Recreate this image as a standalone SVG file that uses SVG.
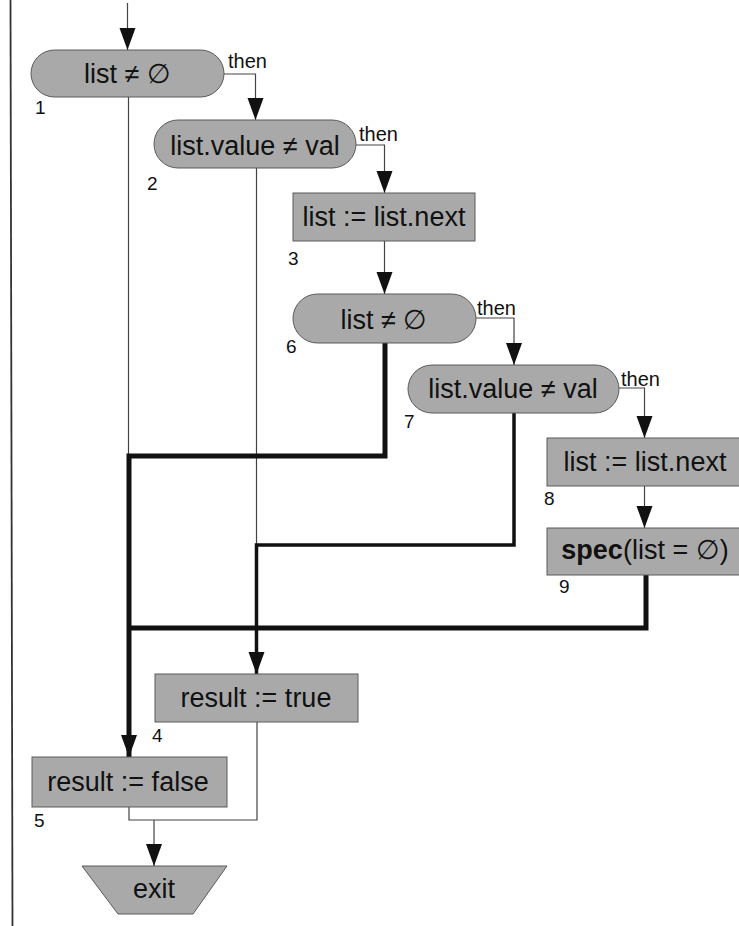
<svg xmlns="http://www.w3.org/2000/svg" width="739" height="926" viewBox="0 0 739 926">
  <style>
    .shape { fill: #a9a9a9; stroke: #5a5a5a; stroke-width: 1; }
    .label { font-family: "Liberation Sans", Arial, sans-serif; font-size: 27px; fill: #111; text-anchor: middle; }
    .num { font-family: "Liberation Sans", Arial, sans-serif; font-size: 19px; fill: #111; }
    .then { font-family: "Liberation Sans", Arial, sans-serif; font-size: 20px; fill: #111; }
    .thin { fill: none; stroke: #444; stroke-width: 1.2; }
    .mid { fill: none; stroke: #111; stroke-width: 3.5; }
    .thick { fill: none; stroke: #111; stroke-width: 5; }
  </style>
  <defs>
    <marker id="arrow" markerUnits="userSpaceOnUse" markerWidth="24" markerHeight="18" viewBox="0 -9 24 18" refX="22" refY="0" orient="auto">
      <path d="M0,-8 L22,0 L0,8 z" fill="#111"/>
    </marker>
  </defs>

  <rect width="739" height="926" fill="#fff"/>

  <!-- page margin rule -->
  <line x1="10.5" y1="0" x2="12.5" y2="926" stroke="#333" stroke-width="1.8"/>

  <g id="connectors">
    <!-- entry -->
    <path class="thin" d="M127.5,3 V50" marker-end="url(#arrow)"/>
    <!-- 1 then -> 2 -->
    <path class="thin" d="M224,74 H255.5 V120" marker-end="url(#arrow)"/>
    <!-- 2 then -> 3 -->
    <path class="thin" d="M356,145 H384.5 V193" marker-end="url(#arrow)"/>
    <!-- 3 -> 6 -->
    <path class="thin" d="M384.5,241 V294" marker-end="url(#arrow)"/>
    <!-- 6 then -> 7 -->
    <path class="thin" d="M476,318 H514 V365" marker-end="url(#arrow)"/>
    <!-- 7 then -> 8 -->
    <path class="thin" d="M619,388 H644.5 V438" marker-end="url(#arrow)"/>
    <!-- 8 -> 9 -->
    <path class="thin" d="M644.5,486 V528" marker-end="url(#arrow)"/>
    <!-- 1 else -->
    <path class="thin" d="M128.5,97 V456"/>
    <!-- 2 else -->
    <path class="thin" d="M256.5,168 V545"/>
    <!-- 6 else -> 5 -->
    <path class="thick" d="M385,343 V456 H129 V757" marker-end="url(#arrow)"/>
    <!-- 7 else -> 4 -->
    <path class="mid" d="M514,413 V545 H256.5 V674" marker-end="url(#arrow)"/>
    <!-- 9 -> 5 -->
    <path class="thick" d="M646,575 V628 H129"/>
    <!-- 4, 5 -> exit -->
    <path class="thin" d="M129,807 V820 H257 V722"/>
    <path class="thin" d="M154,820 V866" marker-end="url(#arrow)"/>
  </g>

  <g id="n1">
    <rect class="shape" x="31" y="50" width="193" height="47" rx="23.5"/>
    <text class="label" x="127.5" y="83">list ≠&#160;∅</text>
    <text class="num" x="35" y="114">1</text>
    <text class="then" x="228" y="68">then</text>
  </g>
  <g id="n2">
    <rect class="shape" x="154" y="120" width="202" height="48" rx="24"/>
    <text class="label" x="255" y="155">list.value ≠ val</text>
    <text class="num" x="147" y="190">2</text>
    <text class="then" x="359" y="141">then</text>
  </g>
  <g id="n3">
    <rect class="shape" x="293" y="193" width="182" height="48"/>
    <text class="label" x="384" y="226">list := list.next</text>
    <text class="num" x="288" y="265">3</text>
  </g>
  <g id="n6">
    <rect class="shape" x="293" y="294" width="183" height="49" rx="24.5"/>
    <text class="label" x="384" y="329">list ≠&#160;∅</text>
    <text class="num" x="286" y="353">6</text>
    <text class="then" x="477" y="315">then</text>
  </g>
  <g id="n7">
    <rect class="shape" x="408" y="365" width="211" height="48" rx="24"/>
    <text class="label" x="513" y="398">list.value ≠ val</text>
    <text class="num" x="404" y="428">7</text>
    <text class="then" x="621" y="386">then</text>
  </g>
  <g id="n8">
    <rect class="shape" x="547" y="438" width="200" height="48"/>
    <text class="label" x="645" y="471">list := list.next</text>
    <text class="num" x="544" y="505">8</text>
  </g>
  <g id="n9">
    <rect class="shape" x="547" y="528" width="200" height="47"/>
    <text class="label" x="645" y="559"><tspan font-weight="bold">spec</tspan>(list = ∅)</text>
    <text class="num" x="559" y="593">9</text>
  </g>
  <g id="n4">
    <rect class="shape" x="155" y="674" width="203" height="48"/>
    <text class="label" x="256" y="707">result := true</text>
    <text class="num" x="152" y="742">4</text>
  </g>
  <g id="n5">
    <rect class="shape" x="32" y="757" width="195" height="50"/>
    <text class="label" x="128" y="791">result := false</text>
    <text class="num" x="34" y="827">5</text>
  </g>
  <g id="exit">
    <polygon class="shape" points="82,866 227,866 193,914 118,914"/>
    <text class="label" x="154" y="898">exit</text>
  </g>
</svg>
